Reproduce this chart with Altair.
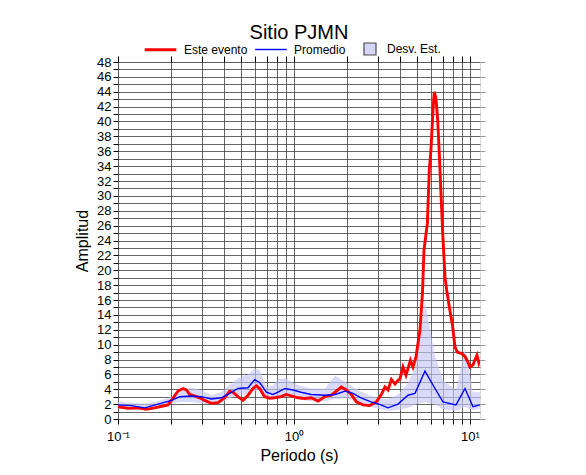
import altair as alt
import pandas as pd

# ---------------- data ----------------
red_period = [0.100, 0.114, 0.130, 0.1448, 0.1616, 0.180, 0.1923, 0.2054, 0.2193, 0.234,
              0.2445, 0.2555, 0.2727, 0.2911, 0.3107, 0.3391, 0.370, 0.4037, 0.4311, 0.450,
              0.4805, 0.5131, 0.548, 0.5848, 0.611, 0.638, 0.681, 0.727, 0.7766, 0.847,
              0.904, 0.9656, 1.054, 1.150, 1.254, 1.369, 1.494, 1.630, 1.740, 1.857,
              1.983, 2.117, 2.261, 2.466, 2.691, 2.937, 3.135, 3.289, 3.42, 3.58,
              3.749, 3.899, 4.002, 4.162, 4.328, 4.59, 4.744, 4.93, 5.199, 5.372,
              5.478, 5.600, 5.726, 5.872, 6.002, 6.163, 6.269, 6.409, 6.554, 6.692,
              6.843, 6.997, 7.211, 7.373, 7.629, 7.975, 8.216, 8.470, 8.970, 9.367,
              9.616, 10.0, 10.40, 10.96, 11.25, 11.40]
red_amp = [1.65, 1.43, 1.5, 1.3, 1.5, 1.75, 1.9, 2.8, 3.76, 4.1,
           3.9, 3.3, 3.1, 2.85, 2.5, 2.1, 2.2, 2.85, 3.75, 3.6,
           3.0, 2.5, 3.2, 4.1, 4.45, 4.1, 3.0, 2.8, 2.85, 3.0,
           3.3, 3.1, 2.85, 2.75, 2.85, 2.4, 3.0, 3.2, 3.75, 4.3,
           3.9, 3.3, 2.3, 1.9, 1.8, 2.3, 3.3, 4.3, 3.9, 5.3,
           4.7, 5.2, 5.4, 7.0, 5.9, 7.9, 7.0, 8.3, 12.0, 17.0,
           22.7, 24.5, 26.3, 33.5, 36.2, 41.5, 44.0, 43.1, 40.2, 35.7,
           30.3, 25.0, 19.1, 17.3, 15.1, 12.4, 9.7, 9.0, 8.8, 8.4,
           7.9, 7.0, 7.3, 8.6, 7.5, 7.8]

mean_period = [0.100, 0.119, 0.1417, 0.1688, 0.2015, 0.2241, 0.2608, 0.2977, 0.339, 0.3863,
               0.4311, 0.4805, 0.548, 0.5976, 0.638, 0.6966, 0.7597, 0.811, 0.889, 0.987,
               1.096, 1.249, 1.500, 1.710, 1.949, 2.164, 2.403, 2.738, 3.121, 3.42,
               3.899, 4.443, 4.870, 5.55, 6.326, 7.024, 8.325, 9.367, 10.40, 11.40]
mean_amp = [1.9, 1.8, 1.5, 2.0, 2.5, 3.0, 3.1, 3.0, 2.7, 2.85,
            3.45, 4.1, 4.2, 5.3, 4.9, 3.6, 3.3, 3.6, 4.1, 3.9,
            3.6, 3.3, 3.2, 3.3, 3.75, 3.45, 2.85, 2.3, 1.9, 1.5,
            2.0, 3.2, 3.45, 6.45, 4.1, 2.3, 1.9, 4.1, 1.65, 1.9]
sd_low = [1.4, 1.4, 1.3, 1.6, 2.1, 2.3, 2.3, 2.1, 2.0, 2.2,
          2.8, 3.2, 3.4, 3.7, 3.9, 2.8, 2.6, 2.9, 3.0, 2.9,
          2.6, 2.4, 2.4, 2.7, 2.8, 2.5, 2.2, 1.6, 1.3, 1.1,
          1.2, 1.5, 1.9, 2.3, 1.9, 1.3, 1.1, 1.6, 1.2, 1.4]
sd_high = [2.3, 2.2, 2.1, 2.4, 3.0, 4.0, 4.2, 3.9, 3.2, 3.6,
           4.6, 5.5, 6.0, 6.8, 6.6, 4.3, 4.5, 5.3, 5.5, 4.9,
           4.4, 4.1, 4.1, 5.8, 5.0, 4.3, 3.7, 3.1, 2.8, 2.7,
           3.3, 4.8, 7.0, 15.9, 8.5, 5.2, 3.9, 9.5, 3.6, 3.6]

series_names = ["Este evento", "Promedio"]
series_colors = ["#ff0000", "#0000ff"]
series_widths = [2.9, 1.4]
band_name = "Desv. Est."

x_grid = [0.1, 0.2, 0.3, 0.4, 0.5, 0.6, 0.7, 0.8, 0.9,
          1, 2, 3, 4, 5, 6, 7, 8, 9, 10]
y_grid = list(range(0, 49))
y_even = list(range(0, 49, 2))

# ---------------- tables ----------------
lines_df = pd.concat([
    pd.DataFrame({"period": red_period, "amp": red_amp, "serie": series_names[0]}),
    pd.DataFrame({"period": mean_period, "amp": mean_amp, "serie": series_names[1]}),
], ignore_index=True)
band_df = pd.DataFrame({"period": mean_period, "low": sd_low, "high": sd_high, "banda": band_name})

FONT = "Liberation Sans"
xscale = alt.Scale(type="log", domain=[0.1, 11.4], nice=False)
yscale = alt.Scale(domain=[0, 48], nice=False, zero=False)

label_expr_x = ("datum.value == 0.1 ? '10\u207b\u00b9' : datum.value == 1 ? '10\u2070' : "
                "datum.value == 10 ? '10\u00b9' : ''")

band = alt.Chart(band_df).mark_area(fillOpacity=0.65, clip=True).encode(
    x=alt.X("period:Q", scale=xscale,
            axis=alt.Axis(orient="bottom", values=x_grid, labelExpr=label_expr_x,
                          title="Periodo (s)", titleFontSize=16, titleFont=FONT,
                          titleFontWeight="normal", titleColor="black", titlePadding=4,
                          labelFont=FONT, labelFontSize=13, labelColor="black",
                          labelPadding=6, labelOverlap=False, labelFlush=False,
                          tickColor="black", tickSize=5, domain=False,
                          grid=True, gridColor="#404040", gridWidth=0.8)),
    y=alt.Y("low:Q", scale=yscale,
            axis=alt.Axis(orient="left", values=y_grid,
                          labelExpr="datum.value % 2 == 0 ? datum.label : ''",
                          title="Amplitud", titleFontSize=16, titleFont=FONT,
                          titleFontWeight="normal", titleColor="black", titlePadding=6,
                          labelFont=FONT, labelFontSize=13, labelColor="black",
                          labelPadding=2, labelOverlap=False, labelFlush=False,
                          tickColor="black", tickSize=5, domain=False,
                          grid=True, gridColor="#404040", gridWidth=0.8)),
    y2="high:Q",
    fill=alt.Fill("banda:N",
                  scale=alt.Scale(domain=[band_name], range=["#c4c4f4"]),
                  legend=alt.Legend(title=None, orient="none", legendX=245, legendY=-20,
                                    padding=0, symbolType="square", symbolSize=144,
                                    symbolOpacity=0.7,
                                    symbolStrokeColor="#000000", symbolStrokeWidth=1.2,
                                    labelOffset=10, labelFont=FONT, labelFontSize=12,
                                    labelColor="black")),
)

lines = alt.Chart(lines_df).mark_line(clip=True).encode(
    x=alt.X("period:Q", scale=xscale,
            axis=alt.Axis(orient="top", values=x_grid, labels=False, title=None,
                          tickColor="black", tickSize=6, domain=False, grid=False)),
    y=alt.Y("amp:Q", scale=yscale,
            axis=alt.Axis(orient="right", values=y_even, labels=False, title=None,
                          tickColor="#999999", tickSize=5, domain=False, grid=False)),
    color=alt.Color("serie:N",
                    scale=alt.Scale(domain=series_names, range=series_colors),
                    legend=alt.Legend(title=None, orient="none", legendX=25, legendY=-30,
                                      padding=0, direction="horizontal",
                                      symbolType="stroke", symbolSize=1000,
                                      symbolStrokeWidth=2.2, columnPadding=4,
                                      labelOffset=6, labelFont=FONT, labelFontSize=12,
                                      labelColor="black")),
    strokeWidth=alt.StrokeWidth("serie:N",
                                scale=alt.Scale(domain=series_names, range=series_widths),
                                legend=None),
    order=alt.Order("period:Q"),
)

chart = alt.layer(band, lines).resolve_axis(
    x="independent", y="independent"
).properties(
    width=362, height=357,
    autosize="none",
    padding={"left": 110, "top": 54, "right": 98, "bottom": 48},
    title=alt.TitleParams("Sitio PJMN", fontSize=20, font=FONT, fontWeight="normal",
                          color="black", anchor="middle", offset=14, dy=25),
).configure_view(stroke="black", strokeWidth=2.5).configure(background="white")

chart.save("out.html", embed_options={"renderer": "svg", "actions": False})
